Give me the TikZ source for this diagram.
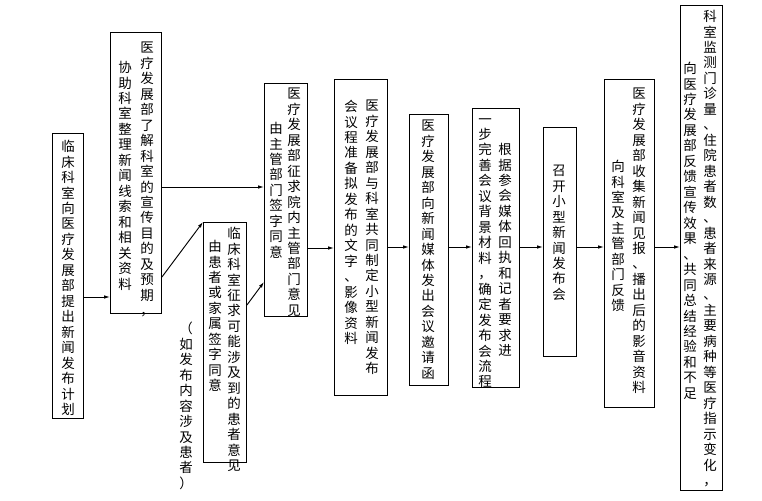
\documentclass[tikz,border=0pt]{standalone}
\usepackage{fontspec}
\newfontfamily\cjk{Noto Sans CJK SC}
\usetikzlibrary{arrows.meta}
\makeatletter
\newcommand\vcol[1]{\vtop{\baselineskip=13.2pt\lineskiplimit=-20pt\@tfor\vc@c:=#1\do{\hbox to 12pt{\hss\vc@c\hss}}}}
\makeatother
\tikzset{
	box/.style={draw,thick,anchor=north west,inner sep=0pt},
	col/.style={anchor=north,inner sep=0pt,font=\cjk\fontsize{11.5}{13}\selectfont},
	flow/.style={-{Latex[length=5pt,width=3pt]},thick},
}
\begin{document}
\begin{tikzpicture}[x=0.03cm,y=-0.03cm]
	\useasboundingbox (0,0) rectangle (762,500);
	% boxes
	\node[box,minimum width=31*0.03cm,minimum height=285*0.03cm](b1) at(52,133){};
	\node[box,minimum width=51*0.03cm,minimum height=281*0.03cm](b2) at(110,32){};
	\node[box,minimum width=43*0.03cm,minimum height=240*0.03cm](b3) at(203,222){};
	\node[box,minimum width=43*0.03cm,minimum height=233*0.03cm](b4) at(264,83){};
	\node[box,minimum width=53*0.03cm,minimum height=316*0.03cm](b5) at(334,79){};
	\node[box,minimum width=39*0.03cm,minimum height=271*0.03cm](b6) at(409,114){};
	\node[box,minimum width=47*0.03cm,minimum height=279*0.03cm](b7) at(472,108){};
	\node[box,minimum width=33*0.03cm,minimum height=229*0.03cm](b8) at(543,127){};
	\node[box,minimum width=50*0.03cm,minimum height=328*0.03cm](b9) at(604,79){};
	\node[box,minimum width=42*0.03cm,minimum height=485*0.03cm](b10) at(680,5){};
	% texts
	\node[col](t1) at(68,140){\vcol{临床科室向医疗发展部提出新闻发布计划}};
	\node[col](t2a) at(147,42){\vcol{医疗发展部了解科室的宣传目的及预期，}};
	\node[col](t2b) at(125,61){\vcol{协助科室整理新闻线索和相关资料}};
	\node[col](t3a) at(234,227){\vcol{临床科室征求可能涉及到的患者意见}};
	\node[col](t3b) at(215,240){\vcol{由患者或家属签字同意}};
	\node[col](t3c) at(186,322){\vcol{（如发布内容涉及患者）}};
	\node[col](t4a) at(294,88){\vcol{医疗发展部征求院内主管部门意见}};
	\node[col](t4b) at(276,122){\vcol{由主管部门签字同意}};
	\node[col](t5a) at(372,100){\vcol{医疗发展部与科室共同制定小型新闻发布}};
	\node[col](t5b) at(351,100){\vcol{会议程准备拟发布的文字、影像资料}};
	\node[col](t6) at(428,120){\vcol{医疗发展部向新闻媒体发出会议邀请函}};
	\node[col](t7a) at(505,143){\vcol{根据参会媒体回执和记者要求进}};
	\node[col](t7b) at(485,118){\vcol{一步完善会议背景材料，确定发布会流程}};
	\node[col](t8) at(559,165){\vcol{召开小型新闻发布会}};
	\node[col](t9a) at(639,88){\vcol{医疗发展部收集新闻见报、播出后的影音资料}};
	\node[col](t9b) at(618,160){\vcol{向科室及主管部门反馈}};
	\node[col](t10a) at(710,10){\vcol{科室监测门诊量、住院患者数、患者来源、主要病种等医疗指示变化，}};
	\node[col](t10b) at(690,62){\vcol{向医疗发展部反馈宣传效果、共同总结经验和不足}};
	% arrows
	\draw[flow](b1.east|-0,297)--(b2.west|-0,297);
	\draw[flow](b2.east|-0,187)--(b4.west|-0,187);
	\draw[flow](b2.east|-0,277)--(b3.north west);
	\draw[flow](b3.east|-0,305)--(b4.west|-0,282);
	\draw[flow](b4.east|-0,248)--(b5.west|-0,248);
	\draw[flow](b5.east|-0,247)--(b6.west|-0,247);
	\draw[flow](b6.east|-0,247)--(b7.west|-0,247);
	\draw[flow](b7.east|-0,247)--(b8.west|-0,247);
	\draw[flow](b8.east|-0,247)--(b9.west|-0,247);
	\draw[flow](b9.east|-0,247)--(b10.west|-0,247);
\end{tikzpicture}
\end{document}
